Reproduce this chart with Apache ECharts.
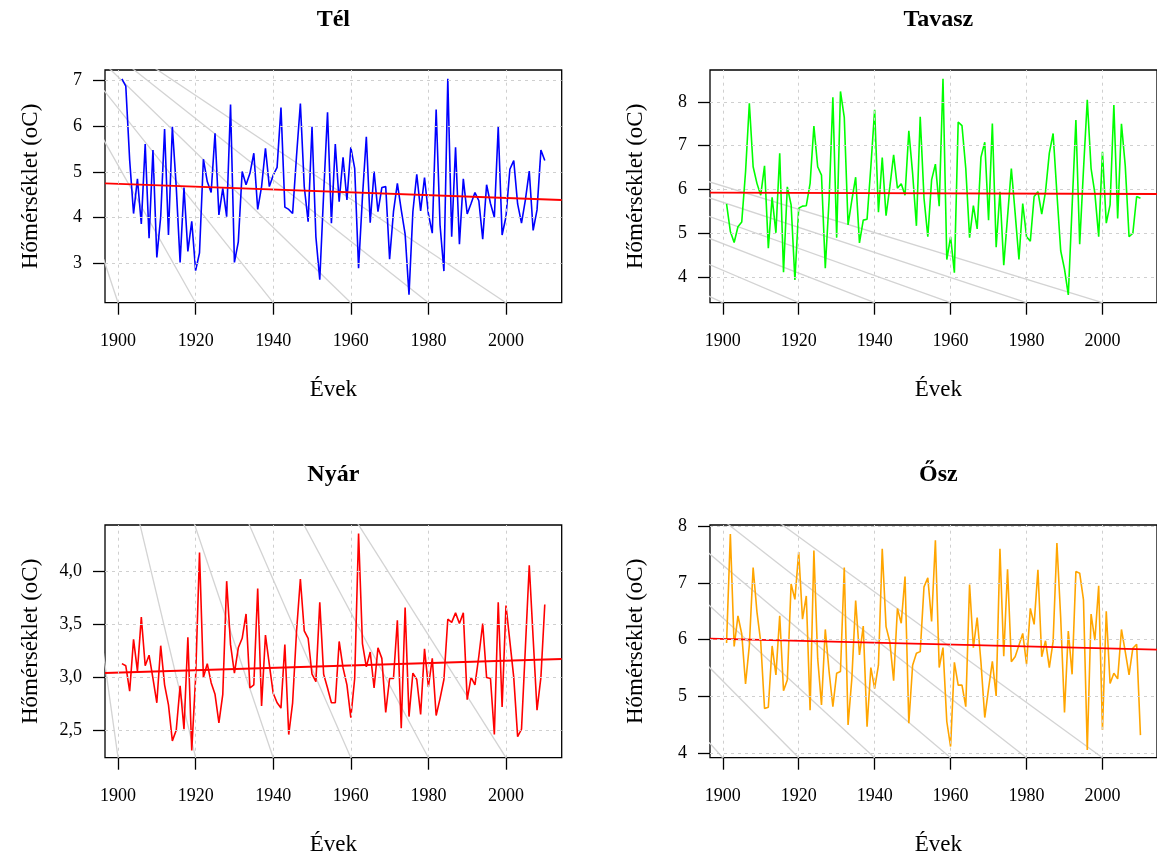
<!DOCTYPE html>
<html>
<head>
<meta charset="utf-8">
<title>Évszakos középhőmérséklet</title>
<script src="https://cdn.jsdelivr.net/npm/echarts@6/dist/echarts.min.js"></script>
<style>
  html, body { margin: 0; padding: 0; background: #fff; }
  #chart { width: 1157px; height: 856px; }
</style>
</head>
<body>
<div id="chart"></div>
<script>
// years 1901..2010
const years = Array.from({ length: 110 }, (_, i) => 1901 + i);

const telValues = [
  7.04, 6.88, 5.26, 4.09, 4.85, 3.86, 5.61, 3.55, 5.48, 3.13,
  4.02, 5.94, 3.62, 5.99, 4.68, 3.02, 4.66, 3.26, 3.92, 2.84,
  3.23, 5.28, 4.79, 4.55, 5.85, 4.06, 4.64, 4.02, 6.48, 3.02,
  3.47, 5.01, 4.72, 4.97, 5.41, 4.18, 4.68, 5.52, 4.68, 4.93,
  5.10, 6.41, 4.23, 4.18, 4.09, 5.34, 6.50, 4.68, 3.91, 5.99,
  3.58, 2.64, 4.53, 6.31, 3.88, 5.61, 4.35, 5.32, 4.39, 5.54,
  5.08, 2.89, 4.45, 5.77, 3.89, 5.01, 4.13, 4.66, 4.68, 3.09,
  4.13, 4.75, 4.17, 3.64, 2.31, 4.13, 4.95, 4.15, 4.88, 4.08,
  3.66, 6.37, 3.84, 2.83, 7.04, 3.58, 5.54, 3.42, 4.85, 4.08,
  4.31, 4.55, 4.37, 3.53, 4.72, 4.31, 4.01, 5.99, 3.62, 4.02,
  5.06, 5.25, 4.30, 3.88, 4.39, 5.02, 3.72, 4.17, 5.48, 5.25
];
const tavaszValues = [
  5.67, 5.04, 4.79, 5.15, 5.26, 6.40, 7.97, 6.52, 6.14, 5.87,
  6.54, 4.66, 5.82, 5.01, 6.83, 4.11, 6.06, 5.65, 3.93, 5.57,
  5.62, 5.63, 6.14, 7.45, 6.52, 6.33, 4.20, 5.76, 8.11, 4.90,
  8.24, 7.65, 5.19, 5.76, 6.28, 4.78, 5.30, 5.32, 6.52, 7.82,
  5.48, 6.73, 5.40, 6.06, 6.79, 6.03, 6.13, 5.87, 7.34, 6.37,
  5.17, 7.66, 5.80, 4.92, 6.22, 6.58, 5.62, 8.53, 4.40, 4.92,
  4.10, 7.54, 7.46, 6.48, 4.90, 5.63, 5.10, 6.74, 7.08, 5.30,
  7.51, 4.68, 5.95, 4.27, 5.38, 6.48, 5.46, 4.40, 5.68, 4.92,
  4.82, 5.84, 5.95, 5.44, 5.95, 6.83, 7.28, 5.91, 4.60, 4.18,
  3.59, 5.61, 7.59, 4.75, 6.45, 8.05, 6.48, 5.91, 4.92, 6.86,
  5.23, 5.65, 7.93, 5.34, 7.50, 6.54, 4.92, 5.00, 5.84, 5.80
];
const nyarValues = [
  3.13, 3.11, 2.87, 3.36, 3.06, 3.57, 3.11, 3.21, 2.99, 2.76,
  3.30, 2.93, 2.74, 2.40, 2.50, 2.92, 2.51, 3.38, 2.31, 3.00,
  4.18, 3.00, 3.13, 2.95, 2.84, 2.57, 2.84, 3.91, 3.31, 3.04,
  3.28, 3.37, 3.60, 2.90, 2.93, 3.84, 2.73, 3.40, 3.12, 2.85,
  2.76, 2.71, 3.31, 2.46, 2.76, 3.43, 3.93, 3.44, 3.37, 3.03,
  2.96, 3.71, 3.03, 2.90, 2.76, 2.76, 3.34, 3.09, 2.93, 2.62,
  2.99, 4.36, 3.32, 3.10, 3.24, 2.90, 3.28, 3.18, 2.67, 2.99,
  2.99, 3.54, 2.52, 3.66, 2.63, 3.04, 2.98, 2.65, 3.27, 2.91,
  3.18, 2.64, 2.80, 2.98, 3.55, 3.52, 3.61, 3.51, 3.61, 2.79,
  3.00, 2.93, 3.20, 3.51, 3.00, 2.99, 2.46, 3.71, 2.72, 3.68,
  3.34, 3.00, 2.44, 2.51, 3.28, 4.06, 3.37, 2.69, 3.00, 3.69
];
const oszValues = [
  5.94, 7.86, 5.88, 6.42, 6.10, 5.22, 5.90, 7.27, 6.49, 5.96,
  4.79, 4.81, 5.89, 5.38, 6.42, 5.10, 5.29, 6.98, 6.71, 7.54,
  6.36, 6.77, 4.76, 7.57, 5.67, 4.85, 6.18, 5.44, 4.82, 5.41,
  5.44, 7.27, 4.50, 5.32, 6.69, 5.73, 6.24, 4.47, 5.51, 5.14,
  5.55, 7.60, 6.23, 5.96, 5.28, 6.55, 6.29, 7.11, 4.53, 5.55,
  5.76, 5.79, 6.93, 7.09, 6.32, 7.75, 5.51, 5.86, 4.56, 4.12,
  5.60, 5.20, 5.20, 4.82, 6.97, 5.86, 6.39, 5.60, 4.63, 5.14,
  5.62, 5.01, 7.60, 5.71, 7.24, 5.61, 5.70, 5.90, 6.11, 5.57,
  6.55, 6.27, 7.23, 5.70, 5.98, 5.51, 5.97, 7.70, 6.38, 4.72,
  6.15, 5.39, 7.20, 7.17, 6.70, 4.06, 6.45, 5.99, 6.95, 4.41,
  6.50, 5.23, 5.41, 5.31, 6.18, 5.79, 5.38, 5.85, 5.92, 4.32
];

// linear trend (abline) values at the left and right plot edges
const telTrend = [4.752, 4.387];
const tavaszTrend = [5.927, 5.897];
const nyarTrend = [3.042, 3.174];
const oszTrend = [6.018, 5.824];

// axis ranges and ticks
const xRange = [1896.64, 2014.36];
const xTicks = [1900, 1920, 1940, 1960, 1980, 2000];
const telRange = [2.137, 7.234];
const tavaszRange = [3.413, 8.731];
const nyarRange = [2.241, 4.441];
const oszRange = [3.923, 8.018];
const telTicks = [3, 4, 5, 6, 7];
const tavaszTicks = [4, 5, 6, 7, 8];
const nyarTicks = [2.5, 3.0, 3.5, 4.0];
const oszTicks = [4, 5, 6, 7, 8];

// grey guide lines: from a common start point down to (tick year, bottom of plot)
const telGuideStart = [1871.6, 9.425];
const tavaszGuideStart = [1714.7, 11.02];
const nyarGuideStart = [1871.6, 9.68];
const oszGuideStart = [1714.7, 17.79];

const panels = [
  { name: "Tél", values: telValues, color: "#0000ff", trend: telTrend, range: telRange, ticks: telTicks, guide: telGuideStart, comma: false },
  { name: "Tavasz", values: tavaszValues, color: "#00ff00", trend: tavaszTrend, range: tavaszRange, ticks: tavaszTicks, guide: tavaszGuideStart, comma: false },
  { name: "Nyár", values: nyarValues, color: "#ff0000", trend: nyarTrend, range: nyarRange, ticks: nyarTicks, guide: nyarGuideStart, comma: true },
  { name: "Ősz", values: oszValues, color: "#ffa500", trend: oszTrend, range: oszRange, ticks: oszTicks, guide: oszGuideStart, comma: false },
];

const lefts = [105, 710];
const tops = [70, 525];
const plotW = 456.7;
const plotH = 232.7;
const serif = "Liberation Serif";

var myChart = echarts.init(document.getElementById("chart"), null, { renderer: "canvas" });

let grids = [], xAxes = [], yAxes = [], series = [], graphics = [];

panels.forEach((p, i) => {
  const left = lefts[i % 2];
  const top = tops[Math.floor(i / 2)];
  grids.push({
    left: left, top: top, width: plotW, height: plotH,
    show: true, borderColor: "#000", borderWidth: 1.3, backgroundColor: "transparent",
  });
  xAxes.push({
    gridIndex: i, type: "value", min: xRange[0], max: xRange[1],
    axisLine: { show: false },
    splitLine: { show: false },
    axisTick: { show: true, customValues: xTicks, length: 12, lineStyle: { color: "#000", width: 1.3 } },
    axisLabel: {
      customValues: xTicks, margin: 30, color: "#000", fontFamily: serif, fontSize: 18,
      formatter: (v) => String(Math.round(v)),
    },
  });
  yAxes.push({
    gridIndex: i, type: "value", min: p.range[0], max: p.range[1],
    axisLine: { show: false },
    splitLine: { show: false },
    axisTick: { show: true, customValues: p.ticks, length: 12, lineStyle: { color: "#000", width: 1.3 } },
    axisLabel: {
      customValues: p.ticks, margin: 23, color: "#000", fontFamily: serif, fontSize: 18,
      formatter: (v) => (p.comma ? v.toFixed(1).replace(".", ",") : String(v)),
    },
  });

  // guide lines (first one also carries the dotted grid)
  xTicks.forEach((yr, k) => {
    const s = {
      type: "line", xAxisIndex: i, yAxisIndex: i, silent: true, symbol: "none",
      data: [p.guide, [yr, p.range[0]]],
      lineStyle: { color: "#d3d3d3", width: 1.3 },
      clip: true, z: 1,
    };
    if (k === 0) {
      s.markLine = {
        silent: true, symbol: ["none", "none"], label: { show: false },
        lineStyle: { color: "#cfcfcf", width: 1, type: [3, 4] },
        data: xTicks.map((t) => ({ xAxis: t })).concat(p.ticks.map((t) => ({ yAxis: t }))),
      };
    }
    series.push(s);
  });

  series.push({
    type: "line", xAxisIndex: i, yAxisIndex: i, silent: true, symbol: "none",
    data: years.map((yr, k) => [yr, p.values[k]]),
    lineStyle: { color: p.color, width: 1.6 },
    clip: true, z: 2,
  });
  series.push({
    type: "line", xAxisIndex: i, yAxisIndex: i, silent: true, symbol: "none",
    data: [[xRange[0], p.trend[0]], [xRange[1], p.trend[1]]],
    lineStyle: { color: "#ff0000", width: 1.8 },
    clip: true, z: 3,
  });

  const cx = left + plotW / 2;
  graphics.push({
    type: "text", x: cx, y: top - 50,
    style: { text: p.name, fill: "#000", font: "bold 24px " + serif, textAlign: "center", textVerticalAlign: "middle" },
  });
  graphics.push({
    type: "text", x: cx, y: top + plotH + 87,
    style: { text: "Évek", fill: "#000", font: "23px " + serif, textAlign: "center", textVerticalAlign: "middle" },
  });
  graphics.push({
    type: "text", x: left - 74, y: top + plotH / 2, rotation: Math.PI / 2,
    style: { text: "Hőmérséklet (oC)", fill: "#000", font: "23px " + serif, textAlign: "center", textVerticalAlign: "middle" },
  });
});

let option = {
  animation: false,
  backgroundColor: "#fff",
  textStyle: { fontFamily: serif, color: "#000" },
  grid: grids,
  xAxis: xAxes,
  yAxis: yAxes,
  series: series,
  graphic: graphics,
};
myChart.setOption(option);
</script>
</body>
</html>
